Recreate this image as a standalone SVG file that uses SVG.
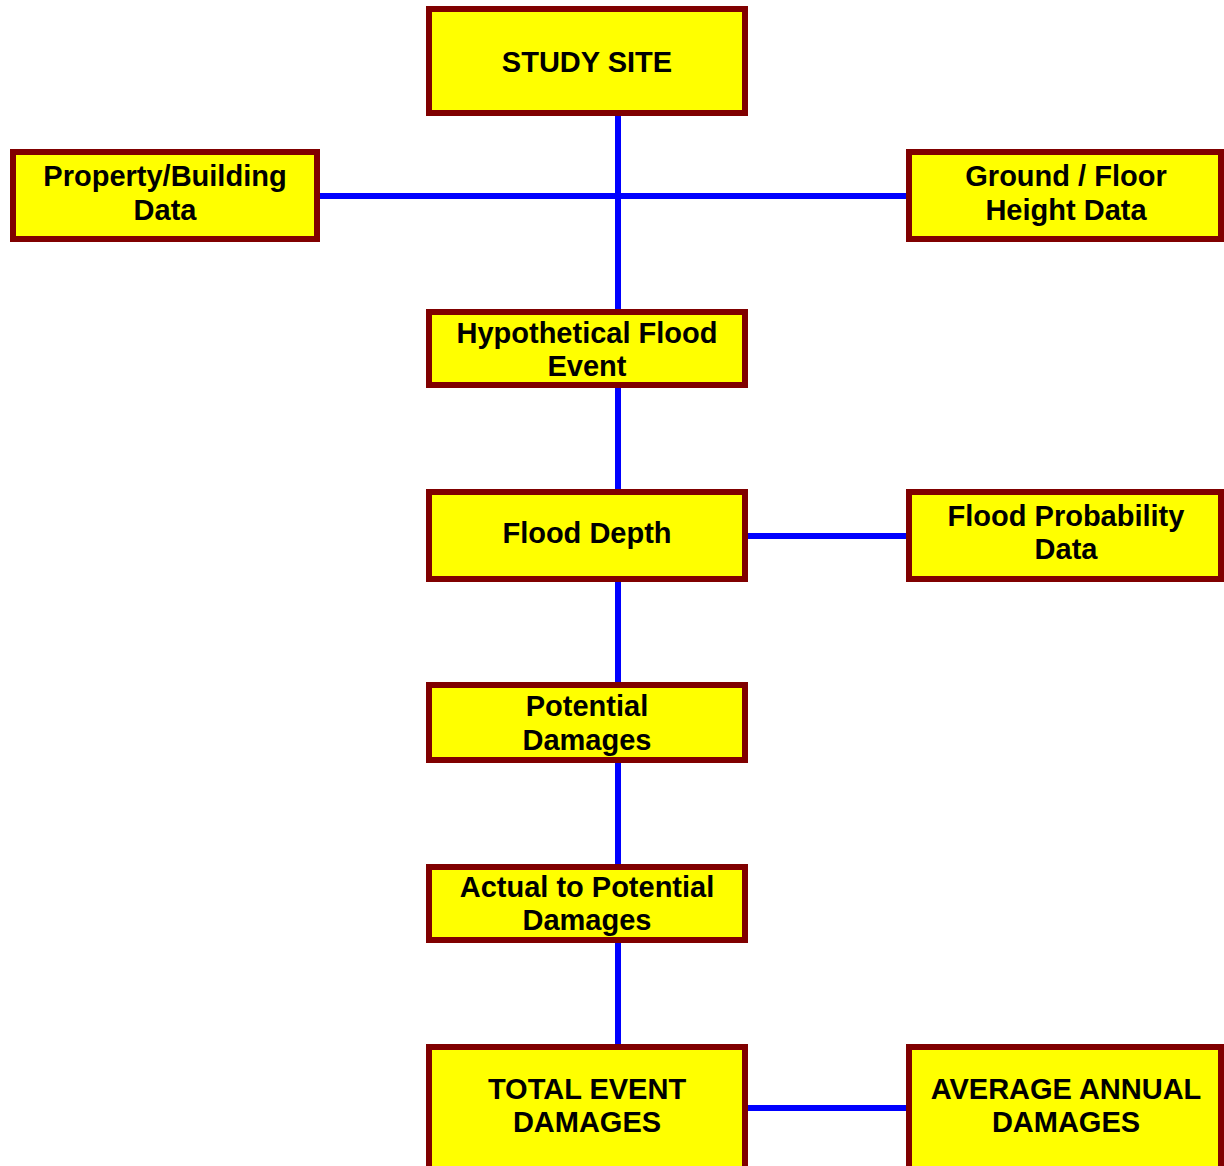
<svg xmlns="http://www.w3.org/2000/svg" width="1224" height="1166" viewBox="0 0 1224 1166">
<style>
.box{fill:#ffff00;stroke:#800000;stroke-width:6}
.lbl{font-family:"Liberation Sans",Arial,sans-serif;font-weight:bold;font-size:29px;fill:#000;text-anchor:middle}
.con{stroke:#0000ff;stroke-width:6;fill:none}
</style>
<rect width="1224" height="1166" fill="#fff"/>
<g id="connectors">
<line class="con" x1="618" y1="116" x2="618" y2="309"/>
<line class="con" x1="320" y1="196" x2="906" y2="196"/>
<line class="con" x1="618" y1="388" x2="618" y2="489"/>
<line class="con" x1="748" y1="536" x2="906" y2="536"/>
<line class="con" x1="618" y1="582" x2="618" y2="682"/>
<line class="con" x1="618" y1="763" x2="618" y2="864"/>
<line class="con" x1="618" y1="943" x2="618" y2="1044"/>
<line class="con" x1="748" y1="1108" x2="906" y2="1108"/>
</g>
<g id="study-site">
<rect class="box" x="429" y="9" width="316" height="104"/>
<text class="lbl" x="587" y="72">STUDY SITE</text>
</g>
<g id="property-building">
<rect class="box" x="13" y="152" width="304" height="87"/>
<text class="lbl" x="165" y="186">Property/Building</text>
<text class="lbl" x="165" y="220">Data</text>
</g>
<g id="ground-floor">
<rect class="box" x="909" y="152" width="312" height="87"/>
<text class="lbl" x="1066" y="186">Ground / Floor</text>
<text class="lbl" x="1066" y="220">Height Data</text>
</g>
<g id="hypothetical-flood">
<rect class="box" x="429" y="312" width="316" height="73"/>
<text class="lbl" x="587" y="343">Hypothetical Flood</text>
<text class="lbl" x="587" y="376">Event</text>
</g>
<g id="flood-depth">
<rect class="box" x="429" y="492" width="316" height="87"/>
<text class="lbl" x="587" y="543">Flood Depth</text>
</g>
<g id="flood-probability">
<rect class="box" x="909" y="492" width="312" height="87"/>
<text class="lbl" x="1066" y="526">Flood Probability</text>
<text class="lbl" x="1066" y="559">Data</text>
</g>
<g id="potential-damages">
<rect class="box" x="429" y="685" width="316" height="75"/>
<text class="lbl" x="587" y="716">Potential</text>
<text class="lbl" x="587" y="750">Damages</text>
</g>
<g id="actual-to-potential">
<rect class="box" x="429" y="867" width="316" height="73"/>
<text class="lbl" x="587" y="897">Actual to Potential</text>
<text class="lbl" x="587" y="930">Damages</text>
</g>
<g id="total-event-damages">
<rect class="box" x="429" y="1047" width="316" height="130"/>
<text class="lbl" x="587" y="1099">TOTAL EVENT</text>
<text class="lbl" x="587" y="1132">DAMAGES</text>
</g>
<g id="average-annual-damages">
<rect class="box" x="909" y="1047" width="312" height="130"/>
<text class="lbl" x="1066" y="1099">AVERAGE ANNUAL</text>
<text class="lbl" x="1066" y="1132">DAMAGES</text>
</g>
</svg>
